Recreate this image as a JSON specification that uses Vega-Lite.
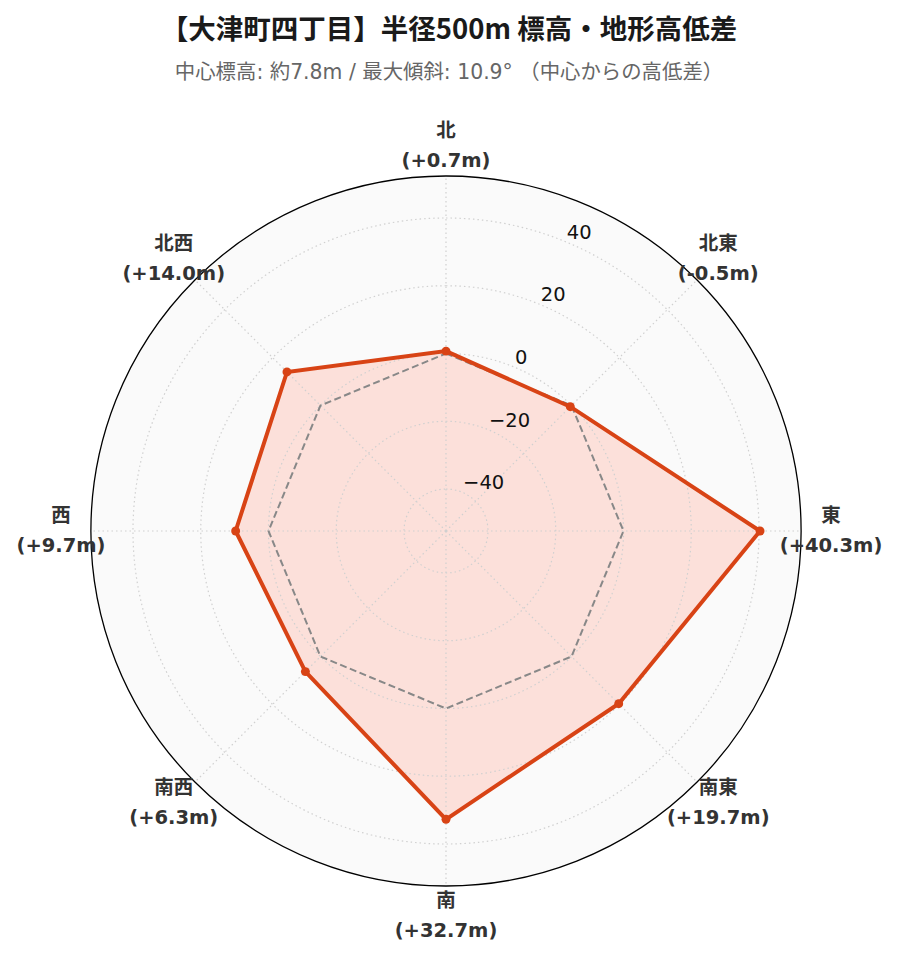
{
  "$schema": "https://vega.github.io/schema/vega-lite/v6.json",
  "width": 710,
  "height": 710,
  "autosize": {"type": "none"},
  "padding": {"left": 91, "top": 176, "right": 99, "bottom": 76},
  "background": "#ffffff",
  "config": {"view": {"stroke": null}},
  "title": {
    "text": "【大津町四丁目】半径500m 標高・地形高低差",
    "subtitle": "中心標高: 約7.8m / 最大傾斜: 10.9° （中心からの高低差）",
    "anchor": "middle",
    "frame": "group",
    "dx": 3,
    "font": "Noto Sans CJK JP",
    "fontSize": 27.5,
    "fontWeight": "bold",
    "color": "#1a1a1a",
    "subtitleFont": "DejaVu Sans, Noto Sans CJK JP",
    "subtitleFontSize": 20.4,
    "subtitleColor": "#666666",
    "subtitlePadding": 18,
    "offset": 38
  },
  "datasets": {
    "dirs": [
      {"i": 0, "dir": "北", "angle": 0, "diff": 0.7, "label": "北\n(+0.7m)"},
      {"i": 1, "dir": "北東", "angle": 45, "diff": -0.5, "label": "北東\n(-0.5m)"},
      {"i": 2, "dir": "東", "angle": 90, "diff": 40.3, "label": "東\n(+40.3m)"},
      {"i": 3, "dir": "南東", "angle": 135, "diff": 19.7, "label": "南東\n(+19.7m)"},
      {"i": 4, "dir": "南", "angle": 180, "diff": 32.7, "label": "南\n(+32.7m)"},
      {"i": 5, "dir": "南西", "angle": 225, "diff": 6.3, "label": "南西\n(+6.3m)"},
      {"i": 6, "dir": "西", "angle": 270, "diff": 9.7, "label": "西\n(+9.7m)"},
      {"i": 7, "dir": "北西", "angle": 315, "diff": 14.0, "label": "北西\n(+14.0m)"}
    ],
    "ticks": [
      {"v": -40, "t": "−40"},
      {"v": -20, "t": "−20"},
      {"v": 0, "t": "0"},
      {"v": 20, "t": "20"},
      {"v": 40, "t": "40"}
    ],
    "outer": [{"v": 52.39}]
  },
  "layer": [
    {
      "data": {"name": "outer"},
      "mark": {"type": "arc", "theta": 0, "theta2": 6.2832, "fill": "#fafafa", "strokeWidth": 0},
      "encoding": {
        "radius": {"field": "v", "type": "quantitative", "stack": null, "scale": {"type": "linear", "domain": [-52.39, 52.39], "range": [0, 355], "zero": false, "nice": false}},
        "radius2": {"datum": -52.39}
      }
    },
    {
      "data": {"name": "dirs"},
      "transform": [
        {"calculate": "(datum.diff + 52.39) * sin(datum.angle * PI / 180)", "as": "px"},
        {"calculate": "(datum.diff + 52.39) * cos(datum.angle * PI / 180)", "as": "py"}
      ],
      "mark": {"type": "line", "interpolate": "linear-closed", "fill": "#fce0da", "strokeWidth": 0, "stroke": "#fce0da"},
      "encoding": {
        "x": {"field": "px", "type": "quantitative", "scale": {"domain": [-104.78, 104.78], "nice": false, "zero": false}, "axis": null},
        "y": {"field": "py", "type": "quantitative", "scale": {"domain": [-104.78, 104.78], "nice": false, "zero": false}, "axis": null},
        "order": {"field": "i", "type": "quantitative"}
      }
    },
    {
      "data": {"name": "ticks"},
      "mark": {"type": "arc", "theta": 0, "theta2": 6.2832, "filled": false, "stroke": "#d0d0d0", "strokeWidth": 1.2, "strokeDash": [1.5, 3]},
      "encoding": {
        "radius": {"field": "v", "type": "quantitative", "stack": null, "scale": {"type": "linear", "domain": [-52.39, 52.39], "range": [0, 355], "zero": false, "nice": false}},
        "radius2": {"datum": -52.39}
      }
    },
    {
      "data": {"name": "dirs"},
      "transform": [
        {"calculate": "104.78 * sin(datum.angle * PI / 180)", "as": "sx"},
        {"calculate": "104.78 * cos(datum.angle * PI / 180)", "as": "sy"},
        {"calculate": "0", "as": "cx"}
      ],
      "mark": {"type": "rule", "stroke": "#d0d0d0", "strokeWidth": 1.2, "strokeDash": [1.5, 3]},
      "encoding": {
        "x": {"field": "cx", "type": "quantitative", "scale": {"domain": [-104.78, 104.78], "nice": false, "zero": false}, "axis": null},
        "y": {"field": "cx", "type": "quantitative", "scale": {"domain": [-104.78, 104.78], "nice": false, "zero": false}, "axis": null},
        "x2": {"field": "sx"},
        "y2": {"field": "sy"}
      }
    },
    {
      "data": {"name": "dirs"},
      "transform": [
        {"calculate": "52.39 * sin(datum.angle * PI / 180)", "as": "zx"},
        {"calculate": "52.39 * cos(datum.angle * PI / 180)", "as": "zy"}
      ],
      "mark": {"type": "line", "interpolate": "linear-closed", "stroke": "#888888", "strokeWidth": 2, "strokeDash": [7, 3.5]},
      "encoding": {
        "x": {"field": "zx", "type": "quantitative", "scale": {"domain": [-104.78, 104.78], "nice": false, "zero": false}, "axis": null},
        "y": {"field": "zy", "type": "quantitative", "scale": {"domain": [-104.78, 104.78], "nice": false, "zero": false}, "axis": null},
        "order": {"field": "i", "type": "quantitative"}
      }
    },
    {
      "data": {"name": "dirs"},
      "transform": [
        {"calculate": "(datum.diff + 52.39) * sin(datum.angle * PI / 180)", "as": "px"},
        {"calculate": "(datum.diff + 52.39) * cos(datum.angle * PI / 180)", "as": "py"}
      ],
      "mark": {"type": "line", "interpolate": "linear-closed", "stroke": "#d84315", "strokeWidth": 4, "strokeJoin": "miter"},
      "encoding": {
        "x": {"field": "px", "type": "quantitative", "scale": {"domain": [-104.78, 104.78], "nice": false, "zero": false}, "axis": null},
        "y": {"field": "py", "type": "quantitative", "scale": {"domain": [-104.78, 104.78], "nice": false, "zero": false}, "axis": null},
        "order": {"field": "i", "type": "quantitative"}
      }
    },
    {
      "data": {"name": "dirs"},
      "transform": [
        {"calculate": "(datum.diff + 52.39) * sin(datum.angle * PI / 180)", "as": "px"},
        {"calculate": "(datum.diff + 52.39) * cos(datum.angle * PI / 180)", "as": "py"}
      ],
      "mark": {"type": "point", "shape": "circle", "filled": true, "size": 80, "color": "#d84315", "opacity": 1},
      "encoding": {
        "x": {"field": "px", "type": "quantitative", "scale": {"domain": [-104.78, 104.78], "nice": false, "zero": false}, "axis": null},
        "y": {"field": "py", "type": "quantitative", "scale": {"domain": [-104.78, 104.78], "nice": false, "zero": false}, "axis": null}
      }
    },
    {
      "data": {"name": "outer"},
      "mark": {"type": "arc", "theta": 0, "theta2": 6.2832, "filled": false, "stroke": "#000000", "strokeWidth": 1.3},
      "encoding": {
        "radius": {"field": "v", "type": "quantitative", "stack": null, "scale": {"type": "linear", "domain": [-52.39, 52.39], "range": [0, 355], "zero": false, "nice": false}},
        "radius2": {"datum": -52.39}
      }
    },
    {
      "data": {"name": "ticks"},
      "transform": [
        {"calculate": "(datum.v + 52.39) * 0.382683", "as": "tx"},
        {"calculate": "(datum.v + 52.39) * 0.923880", "as": "ty"}
      ],
      "mark": {"type": "text", "align": "left", "baseline": "bottom", "font": "DejaVu Sans", "fontSize": 19.5, "color": "#111111", "dx": 1, "dy": 1},
      "encoding": {
        "x": {"field": "tx", "type": "quantitative", "scale": {"domain": [-104.78, 104.78], "nice": false, "zero": false}, "axis": null},
        "y": {"field": "ty", "type": "quantitative", "scale": {"domain": [-104.78, 104.78], "nice": false, "zero": false}, "axis": null},
        "text": {"field": "t"}
      }
    },
    {
      "data": {"name": "dirs"},
      "transform": [
        {"calculate": "113.64 * sin(datum.angle * PI / 180)", "as": "lx"},
        {"calculate": "113.64 * cos(datum.angle * PI / 180)", "as": "ly"}
      ],
      "mark": {"type": "text", "align": "center", "baseline": "middle", "lineBreak": "\n", "lineHeight": 30, "dy": -15, "font": "DejaVu Sans, Noto Sans CJK JP", "fontWeight": "bold", "fontSize": 19.5, "color": "#333333"},
      "encoding": {
        "x": {"field": "lx", "type": "quantitative", "scale": {"domain": [-104.78, 104.78], "nice": false, "zero": false}, "axis": null},
        "y": {"field": "ly", "type": "quantitative", "scale": {"domain": [-104.78, 104.78], "nice": false, "zero": false}, "axis": null},
        "text": {"field": "label"}
      }
    }
  ]
}
